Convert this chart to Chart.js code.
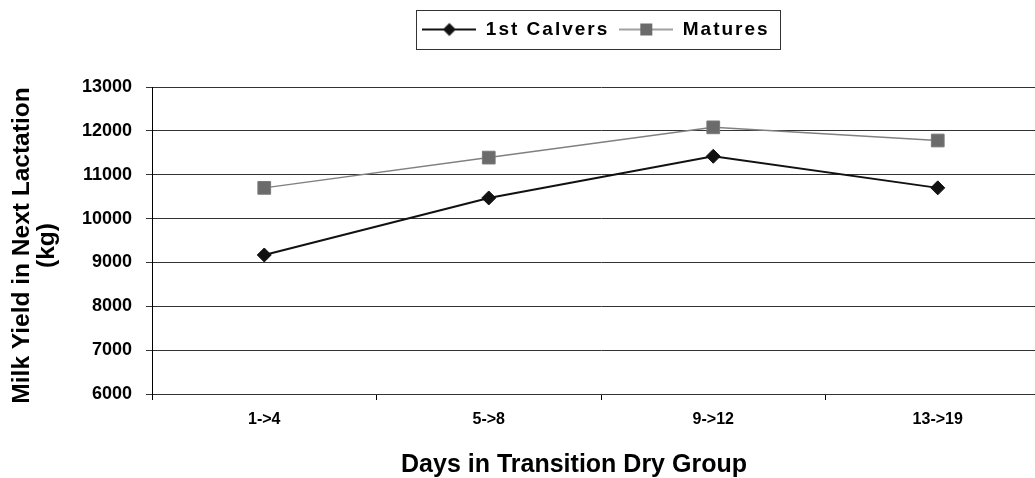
<!DOCTYPE html>
<html lang="en">
<head>
  <meta charset="utf-8">
  <title>Milk Yield in Next Lactation</title>
  <script src="https://cdn.jsdelivr.net/npm/chart.js@4.4.1/dist/chart.umd.min.js"></script>
  <style>
    html, body { margin: 0; padding: 0; background: #fff; overflow: hidden; }
    #wrap { width: 1060px; height: 478px; }
  </style>
</head>
<body>
  <div id="wrap"><canvas id="graph"></canvas></div>
  <script>
    // values
    var groups = ['1->4', '5->8', '9->12', '13->19'];
    var firstCalvers = [9170, 10470, 11420, 10700];
    var matures = [10700, 11390, 12080, 11780];
    var seriesNames = ['1st Calvers', 'Matures'];
    var yMin = 6000, yMax = 13000, yStep = 1000;

    var FONT = "'Liberation Sans', Arial, sans-serif";
    var legendGap = 38;      // room between legend and plot
    var legendShift = 70;    // legend sits right of centre in the original
    var xTitleShift = -54;
    var yTitleShift = 5;

    // little line+marker icons for the legend
    function legendIcon(kind) {
      var c = document.createElement('canvas');
      c.width = 54; c.height = 16;
      var g = c.getContext('2d');
      g.beginPath();
      g.moveTo(0, 8); g.lineTo(54, 8);
      if (kind == 'diamond') {
        g.strokeStyle = '#111'; g.lineWidth = 2; g.stroke();
        g.fillStyle = '#111';
        g.beginPath();
        g.moveTo(27, 1.5); g.lineTo(33.5, 8); g.lineTo(27, 14.5); g.lineTo(20.5, 8);
        g.closePath(); g.fill();
      } else {
        g.strokeStyle = '#808080'; g.lineWidth = 1.5; g.stroke();
        g.fillStyle = '#6b6b6b';
        g.fillRect(21, 2, 12, 12);
      }
      return c;
    }
    var icons = [legendIcon('diamond'), legendIcon('square')];

    var legendFrame = {
      id: 'legendFrame',
      afterInit: function (chart) {
        var lg = chart.legend;
        if (!lg || lg._framed) return;
        lg._framed = true;
        var fit = lg.fit, draw = lg.draw;
        lg.fit = function () {
          this.ctx.save();
          this.ctx.letterSpacing = '2px';
          fit.call(this);
          this.ctx.restore();
          this.height += legendGap;
        };
        lg.draw = function () {
          this.ctx.save();
          this.ctx.letterSpacing = '2px';
          draw.call(this);
          this.ctx.restore();
        };
      },
      afterLayout: function (chart) {
        chart.legend.left += legendShift;
        chart.legend.right += legendShift;
      },
      afterDraw: function (chart) {
        var hb = chart.legend.legendHitBoxes;
        if (!hb || !hb.length) return;
        var a = hb[0], b = hb[hb.length - 1];
        var x0 = Math.round(a.left - 6) + 0.5;
        var x1 = Math.round(b.left + b.width + 10) + 0.5;
        var y0 = Math.round(a.top - 10) + 0.5;
        var y1 = Math.round(a.top + a.height + 10) + 0.5;
        var ctx = chart.ctx;
        ctx.save();
        ctx.strokeStyle = '#333';
        ctx.lineWidth = 1;
        ctx.strokeRect(x0, y0, x1 - x0, y1 - y0);
        ctx.restore();
      }
    };

    // the original titles are not centred on the plot; nudge them
    function nudgeTitle(scale, dx, dy) {
      if (scale._nudged) return;
      scale._nudged = true;
      var dt = scale.drawTitle;
      scale.drawTitle = function () {
        var l = this.left, t = this.top, b = this.bottom;
        this.left = l + dx; this.top = t + dy; this.bottom = b + dy;
        dt.apply(this, arguments);
        this.left = l; this.top = t; this.bottom = b;
      };
    }

    var data = {
      labels: groups,
      datasets: [{
        label: seriesNames[0],
        data: firstCalvers,
        borderColor: '#111',
        borderWidth: 2,
        pointStyle: 'rectRot',
        pointRadius: 7,
        pointBackgroundColor: '#111',
        pointBorderColor: '#111',
        pointBorderWidth: 1
      }, {
        label: seriesNames[1],
        data: matures,
        borderColor: '#808080',
        borderWidth: 1.5,
        pointStyle: 'rect',
        pointRadius: 9,
        pointBackgroundColor: '#6b6b6b',
        pointBorderColor: '#7a7a7a',
        pointBorderWidth: 1
      }]
    };

    const options = {
      responsive: true,
      maintainAspectRatio: false,
      animation: false,
      layout: { padding: { top: 10, right: 8, bottom: 0, left: 0 } },
      plugins: {
        tooltip: { enabled: false },
        legend: {
          position: 'top',
          labels: {
            usePointStyle: true,
            pointStyleWidth: 54,
            padding: 10,
            color: '#000',
            font: { family: FONT, size: 19, weight: 'bold' },
            generateLabels: function (chart) {
              return chart.data.datasets.map(function (ds, i) {
                return {
                  text: ds.label, pointStyle: icons[i], datasetIndex: i,
                  fontColor: '#000', hidden: false, lineWidth: 0,
                  strokeStyle: 'rgba(0,0,0,0)', fillStyle: 'rgba(0,0,0,0)'
                };
              });
            }
          }
        }
      },
      scales: {
        x: {
          offset: true,
          grid: { display: true, offset: true, drawOnChartArea: false, drawTicks: true, tickLength: 6, color: '#000' },
          border: { color: '#333', width: 1 },
          ticks: { color: '#000', padding: 10, font: { family: FONT, size: 16, weight: 'bold' } },
          title: {
            display: true, text: 'Days in Transition Dry Group', color: '#000',
            padding: { top: 0, bottom: 0 },
            font: { family: FONT, size: 25, weight: 'bold', lineHeight: 1.0 }
          },
          afterFit: function (scale) {
            scale.height = 84;
            nudgeTitle(scale, xTitleShift, 0);
          }
        },
        y: {
          min: yMin, max: yMax,
          grid: { color: '#333', lineWidth: 1, drawTicks: true, tickLength: 6 },
          border: { color: '#000', width: 1 },
          ticks: {
            stepSize: yStep, color: '#000', padding: 14,
            font: { family: FONT, size: 18, weight: 'bold' },
            callback: function (v) { return String(v); }
          },
          title: {
            display: true, text: ['Milk Yield in Next Lactation', '(kg)'], color: '#000',
            padding: { top: 10, bottom: 0 },
            font: { family: FONT, size: 24.5, weight: 'bold', lineHeight: 1.02 }
          },
          afterFit: function (scale) {
            scale.width = 152;
            nudgeTitle(scale, 0, yTitleShift);
          }
        }
      }
    };

    var chart = new Chart(document.getElementById('graph'), {
      type: 'line',
      data: data,
      options: options,
      plugins: [legendFrame]
    });
  </script>
</body>
</html>
